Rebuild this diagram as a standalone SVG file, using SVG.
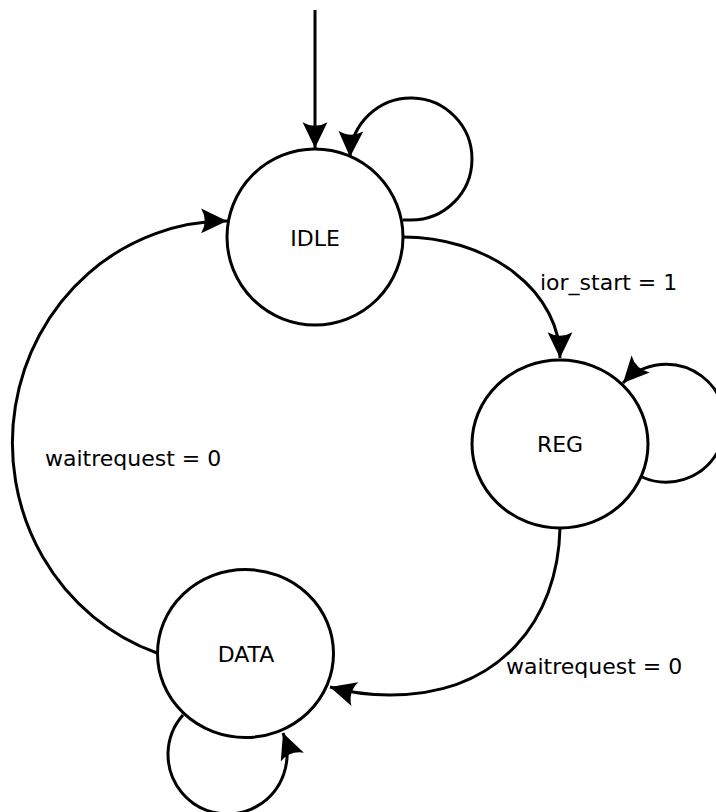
<svg xmlns="http://www.w3.org/2000/svg" width="716" height="812" viewBox="0 0 716 812">
<style>
.node{fill:#fff;stroke:#000;stroke-width:3}
.lbl{font-family:"DejaVu Sans",sans-serif;font-size:22px;fill:#000}
.c{text-anchor:middle}
.edge{fill:none;stroke:#000;stroke-width:3;marker-end:url(#ah)}
</style>
<defs>
<marker id="ah" markerUnits="userSpaceOnUse" markerWidth="30" markerHeight="30" viewBox="-27 -14 29 28" refX="0" refY="0" orient="auto">
<path d="M0,0 L-25,-12 Q-18,0 -25,12 Z" fill="#000"/>
</marker>
</defs>
<g id="edges">
<path class="edge" d="M315,10 L315,148"/>
<path class="edge" d="M403,220 L411,220 A61,61 0 1 0 350,157"/>
<path class="edge" d="M403,237 A157,121 0 0 1 560,358"/>
<path class="edge" d="M642,477 A59,59 0 1 0 623,383"/>
<path class="edge" d="M560,528 C558,620 500,695 390,695 Q358,695 330,687"/>
<path class="edge" d="M183,715 A59.5,59.5 0 1 0 283,733"/>
<path class="edge" d="M157,653 A214,222 0 0 1 227,221"/>
</g>
<g id="IDLE">
<circle class="node" cx="315" cy="237" r="88"/>
<text class="lbl c" x="315" y="246">IDLE</text>
</g>
<g id="REG">
<ellipse class="node" cx="560" cy="444" rx="88" ry="84"/>
<text class="lbl c" x="560" y="452">REG</text>
</g>
<g id="DATA">
<ellipse class="node" cx="245.5" cy="653.5" rx="88" ry="84"/>
<text class="lbl c" x="246" y="662">DATA</text>
</g>
<g id="labels">
<text class="lbl" x="540" y="290">ior_start = 1</text>
<text class="lbl" x="45" y="466">waitrequest = 0</text>
<text class="lbl" x="506" y="674">waitrequest = 0</text>
</g>
</svg>
